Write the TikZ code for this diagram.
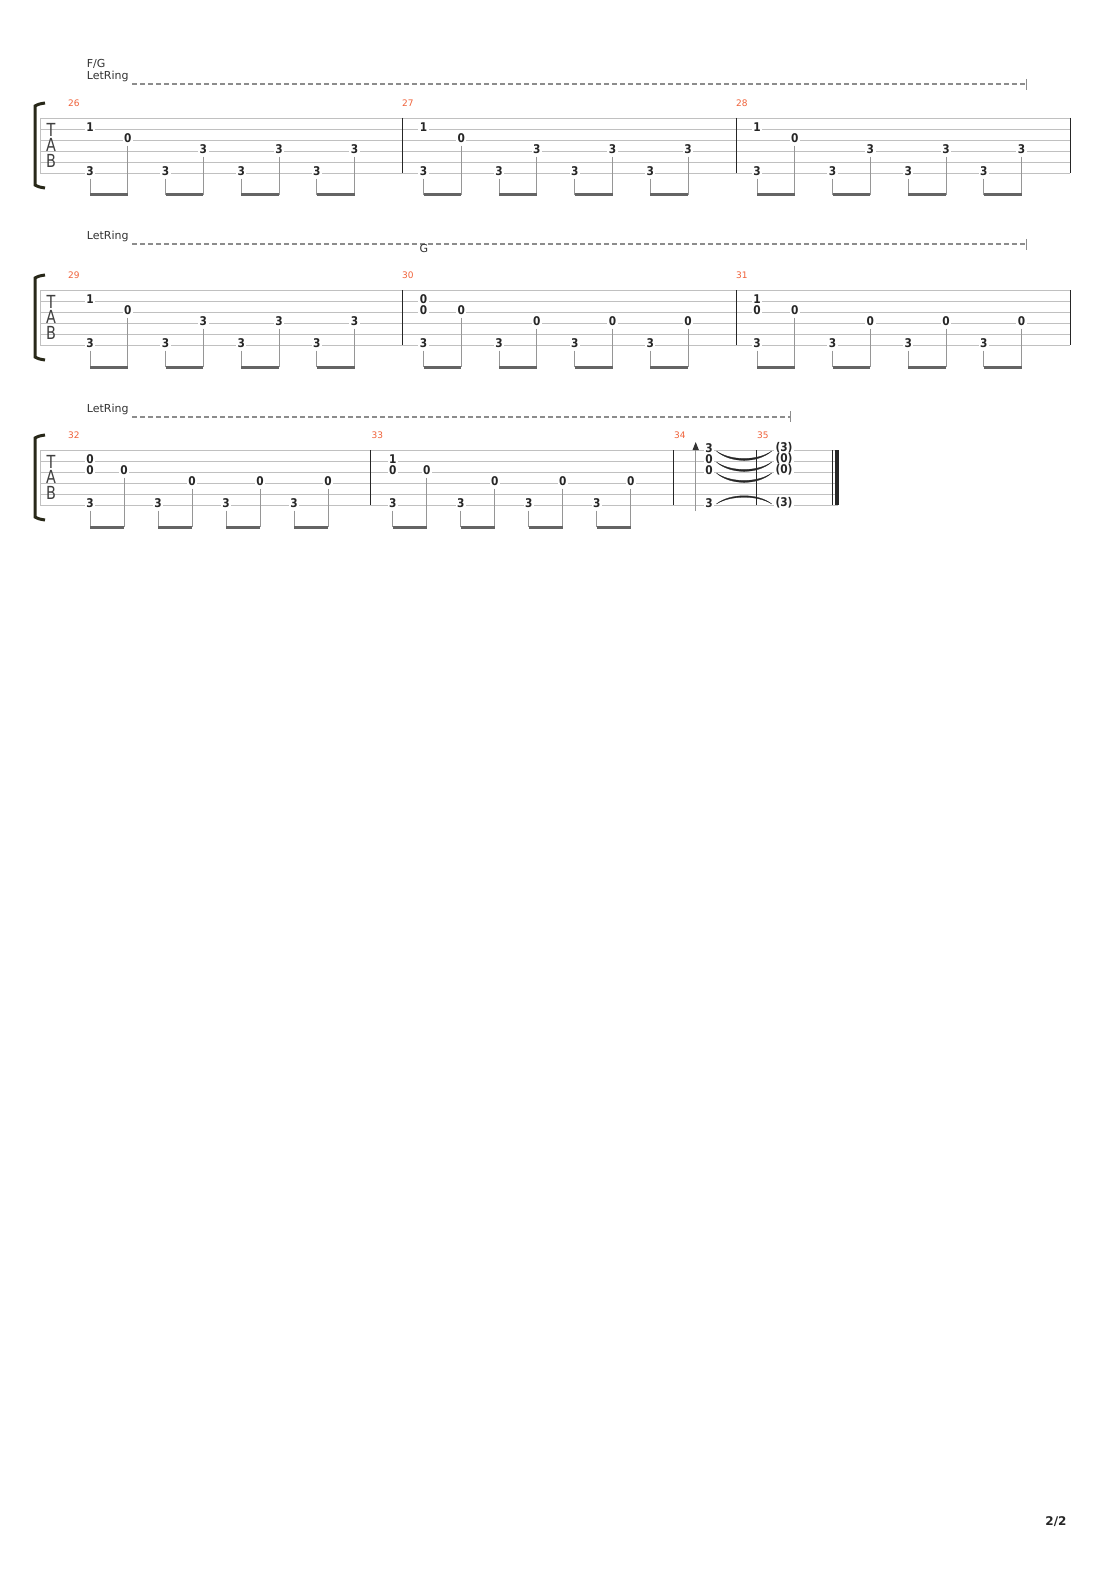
\documentclass[tikz,border=0pt]{standalone}
\usepackage{fontspec}
\setmainfont{DejaVu Sans}
\newfontfamily\fretfont{DejaVu Sans}[FakeStretch=0.88]
\newfontfamily\clefont{DejaVu Sans}[FakeStretch=0.8]
\usepackage{xcolor}
\usepackage{tikz}
\usetikzlibrary{arrows.meta,calc,positioning}

\definecolor{barorange}{RGB}{240,98,58}
\definecolor{staffline}{RGB}{192,192,192}
\definecolor{stemgray}{RGB}{150,150,150}
\definecolor{beamgray}{RGB}{100,100,100}
\definecolor{ringgray}{RGB}{140,140,140}
\definecolor{brackcol}{RGB}{40,40,25}

\begin{document}
\begin{tikzpicture}[x=1pt,y=-1pt,
  fret/.style={font=\fretfont\bfseries\fontsize{12}{12}\selectfont, text=black!85, fill=white, inner xsep=1.5pt, inner ysep=0pt},
  barno/.style={font=\fontsize{9}{10}\selectfont, text=barorange, anchor=base west, inner sep=0pt},
  lbl/.style={font=\fontsize{11}{12}\selectfont, text=black!80, inner sep=0pt},
  tabletter/.style={font=\clefont\fontsize{18}{18}\selectfont, text=black!75, inner sep=0pt},
  staff/.style={staffline, line width=0.9pt},
  barline/.style={black!85, line width=1pt},
  stem/.style={stemgray, line width=1pt},
  beam/.style={beamgray, line width=3pt},
  ring/.style={ringgray, line width=1.6pt, dash pattern=on 5pt off 3pt},
  ringend/.style={ringgray, line width=1pt},
  tie/.style={black!85, line width=0.3pt},
  strum/.style={stemgray, line width=1.2pt, -{Triangle[length=8pt,width=6pt,color=black!80]}},
  bracket/.style={brackcol, line width=3pt}]

\fill[white] (0,0) rectangle (1110,1570);
\useasboundingbox (0,0) rectangle (1110,1570);

\foreach \ty/\xe in {118/1070, 290/1070, 450/838}{
  \foreach \s in {0,...,5}
    \draw[staff] (40,\ty+\s*11) -- (\xe,\ty+\s*11);
  \draw[staff] (40,\ty) -- (40,\ty+55);
  \draw[bracket] (45,\ty-15) .. controls (39,\ty-14) .. (35,\ty-12) -- (35,\ty+67) .. controls (39,\ty+69) .. (45,\ty+70);
  \node[tabletter] (t\ty) at (51,\ty+11.5) {T};
  \node[tabletter] (a\ty) at (51,\ty+27) {A};
  \node[tabletter] (b\ty) at (51,\ty+42.5) {B};
}

\foreach \xb/\ty in {402/118, 736/118, 1070/118, 402/290, 736/290, 1070/290, 370.7/450, 673/450, 756.7/450, 832.3/450}
  \draw[barline] (\xb,\ty) -- (\xb,\ty+55);
\fill[black!85] (835,450) rectangle (839,505);

\foreach \m/\xn/\ty in {26/68/118, 27/402/118, 28/736/118, 29/68/290, 30/402/290, 31/736/290, 32/68/450, 33/371.5/450, 34/674/450, 35/757/450}
  \node[barno] (no\m) at (\xn,\ty-11.5) {\m};

\node[lbl, anchor=base west] (fg) at (86.7,67.3) {F/G};
\node[lbl, anchor=base west] (lr1) at (86.7,80) {LetRing};
\node[lbl, anchor=base west] (lr2) at (86.7,240) {LetRing};
\node[lbl, anchor=base west] (lr3) at (86.7,412.5) {LetRing};

\coordinate (re1) at (1026.7,84.3);
\coordinate (re2) at (1026.7,244.3);
\coordinate (re3) at (790,416.7);
\foreach \i in {1,2,3}{
  \draw[ring] ($(lr\i.east |- re\i)+(3.5,0)$) -- (re\i);
  \draw[ringend] ([yshift=5.5pt]re\i) -- ([yshift=-5.5pt]re\i);
}
\node[lbl, anchor=base] (g) at (424,252.3) {G};

\foreach \m/\xa/\st/\ty/\fb/\fd in {26/90/37.8/118/1/3, 27/423.5/37.8/118/1/3, 28/757/37.8/118/1/3, 29/90/37.8/290/1/3, 30/423.5/37.8/290/0/0, 31/757/37.8/290/1/0, 32/90/34/450/0/0, 33/392.7/34/450/1/0}{
  \coordinate (bm\m) at (\xa,\ty+77);
  \node[fret] (n\m-t) at (\xa,\ty+9) {\fb};
  \foreach \e in {0,2,4,6}
    \node[fret] (n\m-\e) at (\xa+\e*\st,\ty+53) {3};
  \node[fret] (n\m-1) at (\xa+\st,\ty+20) {0};
  \foreach \e in {3,5,7}
    \node[fret] (n\m-\e) at (\xa+\e*\st,\ty+31) {\fd};
  \foreach \e in {0,...,7}
    \draw[stem] ([yshift=-3pt]n\m-\e.south) -- (n\m-\e.south |- bm\m);
  \foreach \e/\f in {0/1,2/3,4/5,6/7}
    \draw[beam] (n\m-\e.south |- bm\m) -- (n\m-\f.south |- bm\m);
}
\foreach \m/\xa/\ty in {30/423.5/290, 31/757/290, 32/90/450, 33/392.7/450}
  \node[fret] (n\m-c) at (\xa,\ty+20) {0};

\coordinate (strumlo) at (695.7,511);
\coordinate (strumhi) at (695.7,442);
\draw[strum] (strumlo) -- (strumhi);

\foreach \s/\f/\y in {1/3/448, 2/0/459, 3/0/470, 6/3/503}{
  \node[fret] (p\s) at (709,\y) {\f};
  \node[fret] (q\s) at (784,\y) {(\f)};
}
\foreach \s in {1,2,3}
  \filldraw[tie] ([shift={(2,3)}]p\s.east) .. controls +(14,10) and +(-14,10) .. ([shift={(-2,3)}]q\s.west) .. controls +(-14,12.5) and +(14,12.5) .. ([shift={(2,3)}]p\s.east);
\filldraw[tie] ([shift={(2,1)}]p6.east) .. controls +(14,-11) and +(-14,-11) .. ([shift={(-2,1)}]q6.west) .. controls +(-14,-9) and +(14,-9) .. ([shift={(2,1)}]p6.east);

\node[font=\bfseries\fontsize{12}{12}\selectfont, text=black!85, anchor=base] (pg) at (1056,1525) {2/2};
\end{tikzpicture}
\end{document}
